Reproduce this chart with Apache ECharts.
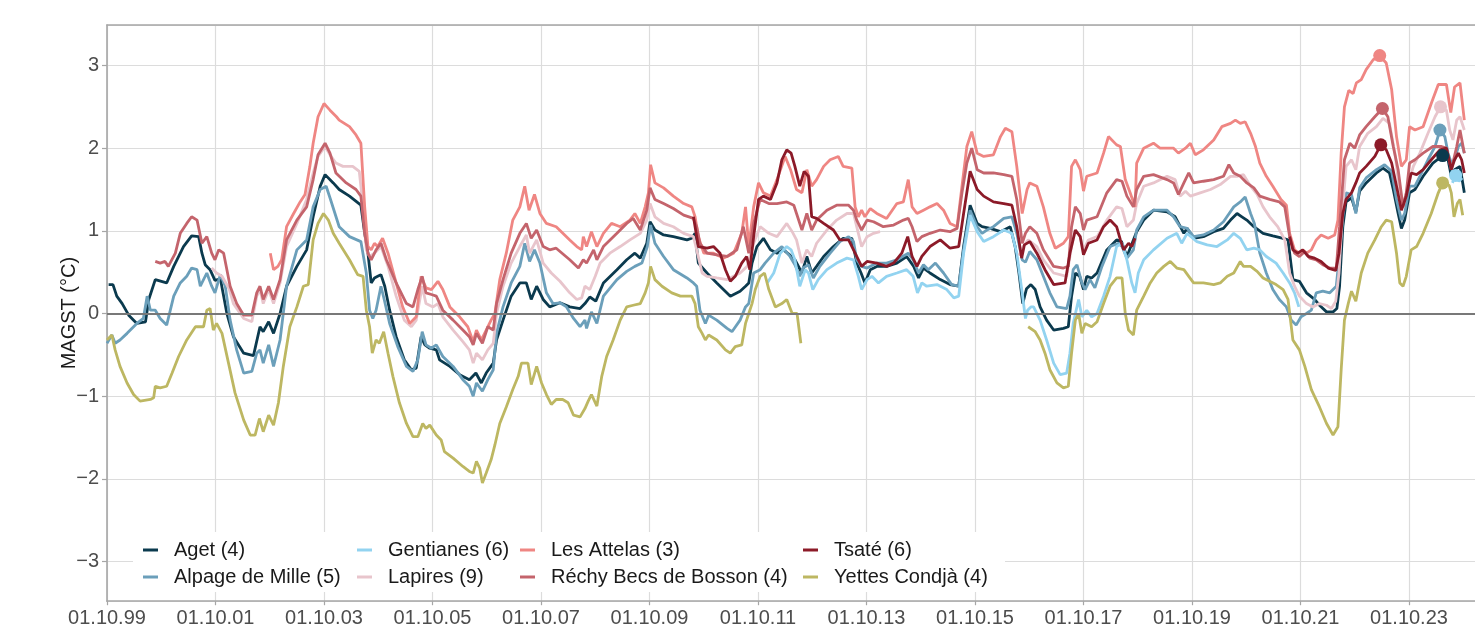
<!DOCTYPE html>
<html><head><meta charset="utf-8">
<script src="https://cdn.jsdelivr.net/npm/echarts@6/dist/echarts.min.js"></script>
<style>html,body{margin:0;padding:0;background:#fff;}#c{width:1475px;height:628px;}</style>
</head><body><div id="c"></div>
<script>
// x values are decimal years; 1999.75 = 01.10.1999
const START = 1999.75;
const xTickLabels = ['01.10.99','01.10.01','01.10.03','01.10.05','01.10.07','01.10.09','01.10.11','01.10.13','01.10.15','01.10.17','01.10.19','01.10.21','01.10.23'];
const seriesNames = ['Aget (4)','Alpage de Mille (5)','Gentianes (6)','Lapires (9)','Les Attelas (3)','Réchy Becs de Bosson (4)','Tsaté (6)','Yettes Condjà (4)'];
const seriesColors = ['#0b3a4e','#6b9fba','#92d3f0','#e8c5cc','#ef8683','#c4646c','#8c1a28','#bdb762'];

const aget = [[1999.78,0.35],[1999.86,0.35],[1999.93,0.21],[2000.03,0.12],[2000.15,-0.02],[2000.30,-0.12],[2000.46,-0.10],[2000.52,0.17],[2000.64,0.41],[2000.85,0.37],[2000.98,0.57],[2001.16,0.81],[2001.31,0.94],[2001.44,0.93],[2001.50,0.73],[2001.56,0.59],[2001.65,0.53],[2001.74,0.40],[2001.84,0.42],[2001.96,0.0],[2002.08,-0.28],[2002.27,-0.48],[2002.45,-0.51],[2002.57,-0.16],[2002.63,-0.22],[2002.73,-0.10],[2002.82,-0.24],[2002.94,0.0],[2003.06,0.33],[2003.25,0.57],[2003.43,0.77],[2003.55,1.17],[2003.68,1.54],[2003.77,1.68],[2003.92,1.58],[2004.03,1.50],[2004.22,1.42],[2004.43,1.31],[2004.50,0.97],[2004.56,0.73],[2004.62,0.37],[2004.68,0.43],[2004.74,0.45],[2004.80,0.47],[2004.87,0.33],[2004.96,0.04],[2005.08,-0.28],[2005.23,-0.56],[2005.36,-0.68],[2005.45,-0.66],[2005.54,-0.28],[2005.61,-0.38],[2005.70,-0.42],[2005.82,-0.44],[2005.88,-0.56],[2006.07,-0.64],[2006.25,-0.74],[2006.43,-0.80],[2006.55,-0.72],[2006.65,-0.84],[2006.74,-0.72],[2006.87,-0.60],[2006.93,-0.32],[2007.05,-0.08],[2007.20,0.21],[2007.36,0.37],[2007.48,0.37],[2007.57,0.17],[2007.67,0.33],[2007.79,0.17],[2007.91,0.08],[2008.10,0.13],[2008.28,0.08],[2008.47,0.06],[2008.56,0.12],[2008.65,0.20],[2008.76,0.15],[2008.90,0.37],[2009.15,0.53],[2009.33,0.65],[2009.48,0.73],[2009.58,0.67],[2009.70,0.85],[2009.76,1.11],[2009.85,1.01],[2010.01,0.95],[2010.19,0.93],[2010.44,0.89],[2010.53,0.91],[2010.59,0.97],[2010.65,0.61],[2010.81,0.49],[2010.99,0.37],[2011.24,0.21],[2011.42,0.27],[2011.52,0.33],[2011.58,0.37],[2011.64,0.61],[2011.73,0.81],[2011.85,0.91],[2011.98,0.77],[2012.10,0.73],[2012.22,0.77],[2012.35,0.70],[2012.43,0.65],[2012.56,0.49],[2012.65,0.69],[2012.74,0.49],[2012.83,0.57],[2012.96,0.69],[2013.14,0.81],[2013.32,0.91],[2013.48,0.91],[2013.57,0.61],[2013.65,0.49],[2013.72,0.37],[2013.82,0.53],[2013.94,0.57],[2014.12,0.57],[2014.31,0.61],[2014.49,0.69],[2014.62,0.57],[2014.71,0.43],[2014.80,0.55],[2014.92,0.49],[2015.11,0.41],[2015.29,0.35],[2015.45,0.33],[2015.54,0.81],[2015.66,1.31],[2015.79,1.09],[2015.88,1.05],[2016.03,1.03],[2016.22,0.99],[2016.40,1.05],[2016.49,0.81],[2016.56,0.49],[2016.63,0.12],[2016.70,0.30],[2016.78,0.35],[2016.86,0.29],[2016.95,0.08],[2017.07,-0.08],[2017.20,-0.20],[2017.38,-0.18],[2017.47,-0.16],[2017.53,0.21],[2017.60,0.49],[2017.68,0.45],[2017.75,0.29],[2017.81,0.45],[2017.90,0.43],[2018.00,0.49],[2018.18,0.77],[2018.36,0.89],[2018.45,0.87],[2018.55,0.69],[2018.67,0.89],[2018.73,0.99],[2018.86,1.13],[2019.04,1.25],[2019.29,1.23],[2019.44,1.17],[2019.60,0.97],[2019.66,1.03],[2019.78,0.91],[2019.96,0.93],[2020.15,0.99],[2020.33,1.03],[2020.46,1.13],[2020.58,1.21],[2020.67,1.17],[2020.76,1.13],[2020.89,1.05],[2021.06,0.97],[2021.24,0.94],[2021.43,0.91],[2021.52,0.89],[2021.61,0.41],[2021.73,0.39],[2021.86,0.25],[2022.01,0.17],[2022.10,0.10],[2022.23,0.02],[2022.35,0.02],[2022.42,0.06],[2022.47,0.33],[2022.53,1.05],[2022.59,1.35],[2022.69,1.40],[2022.77,1.23],[2022.84,1.48],[2022.96,1.58],[2023.15,1.70],[2023.27,1.76],[2023.39,1.70],[2023.46,1.50],[2023.55,1.21],[2023.61,1.03],[2023.67,1.13],[2023.76,1.46],[2023.86,1.50],[2024.01,1.66],[2024.19,1.82],[2024.37,1.91],[2024.47,1.86],[2024.53,1.66],[2024.59,1.74],[2024.69,1.78],[2024.77,1.46]];

const alpageDeMille = [[1999.75,-0.36],[1999.84,-0.26],[1999.90,-0.36],[1999.99,-0.32],[2000.12,-0.24],[2000.30,-0.12],[2000.42,-0.06],[2000.49,0.21],[2000.55,0.04],[2000.64,0.04],[2000.73,-0.06],[2000.85,-0.14],[2000.98,0.21],[2001.10,0.37],[2001.22,0.45],[2001.31,0.55],[2001.41,0.53],[2001.47,0.33],[2001.59,0.49],[2001.68,0.33],[2001.74,0.25],[2001.84,0.47],[2001.93,0.33],[2002.02,-0.08],[2002.14,-0.44],[2002.27,-0.72],[2002.42,-0.70],[2002.51,-0.48],[2002.57,-0.44],[2002.63,-0.60],[2002.73,-0.38],[2002.82,-0.64],[2002.94,-0.32],[2003.06,0.33],[2003.25,0.77],[2003.43,0.89],[2003.55,1.29],[2003.68,1.50],[2003.79,1.54],[2003.86,1.40],[2004.03,1.05],[2004.22,0.93],[2004.43,0.87],[2004.53,0.49],[2004.59,0.04],[2004.65,-0.06],[2004.71,0.04],[2004.80,0.33],[2004.86,0.17],[2004.96,-0.12],[2005.11,-0.40],[2005.27,-0.64],[2005.39,-0.70],[2005.48,-0.56],[2005.56,-0.22],[2005.63,-0.38],[2005.73,-0.42],[2005.82,-0.38],[2005.94,-0.52],[2006.13,-0.64],[2006.31,-0.80],[2006.43,-0.88],[2006.50,-1.00],[2006.56,-0.84],[2006.67,-0.94],[2006.77,-0.80],[2006.87,-0.68],[2006.93,-0.24],[2007.05,0.08],[2007.20,0.37],[2007.36,0.57],[2007.45,0.85],[2007.54,0.63],[2007.63,0.77],[2007.73,0.61],[2007.85,0.25],[2007.97,0.12],[2008.10,0.13],[2008.22,0.08],[2008.35,-0.06],[2008.47,-0.16],[2008.56,-0.08],[2008.59,-0.18],[2008.68,0.02],[2008.78,-0.12],[2008.90,0.21],[2009.15,0.41],[2009.33,0.51],[2009.48,0.57],[2009.61,0.61],[2009.71,0.81],[2009.77,1.07],[2009.85,0.85],[2010.01,0.69],[2010.19,0.53],[2010.44,0.43],[2010.56,0.37],[2010.62,0.33],[2010.68,0.04],[2010.78,-0.12],[2010.84,-0.02],[2010.99,-0.08],[2011.18,-0.18],[2011.27,-0.22],[2011.42,-0.08],[2011.52,0.08],[2011.58,0.12],[2011.67,0.49],[2011.79,0.53],[2011.88,0.61],[2012.04,0.73],[2012.19,0.81],[2012.34,0.69],[2012.43,0.59],[2012.52,0.45],[2012.58,0.55],[2012.68,0.59],[2012.77,0.43],[2012.89,0.57],[2013.08,0.73],[2013.26,0.87],[2013.42,0.93],[2013.51,0.87],[2013.57,0.65],[2013.66,0.57],[2013.76,0.55],[2013.94,0.61],[2014.12,0.61],[2014.31,0.65],[2014.52,0.73],[2014.61,0.65],[2014.71,0.49],[2014.80,0.59],[2014.89,0.53],[2015.02,0.61],[2015.17,0.49],[2015.32,0.35],[2015.45,0.33],[2015.54,0.77],[2015.66,1.25],[2015.79,1.05],[2015.88,0.97],[2015.97,1.01],[2016.09,1.05],[2016.28,1.15],[2016.43,1.17],[2016.52,0.97],[2016.62,0.65],[2016.68,0.62],[2016.76,0.75],[2016.89,0.65],[2017.01,0.45],[2017.13,0.25],[2017.26,0.08],[2017.44,0.06],[2017.50,0.21],[2017.56,0.53],[2017.63,0.59],[2017.72,0.37],[2017.78,0.29],[2017.87,0.41],[2017.96,0.31],[2018.09,0.57],[2018.24,0.81],[2018.40,0.85],[2018.46,0.81],[2018.55,0.67],[2018.67,0.77],[2018.73,1.01],[2018.86,1.17],[2019.04,1.25],[2019.29,1.25],[2019.41,1.17],[2019.53,1.05],[2019.66,1.03],[2019.78,0.93],[2019.96,0.95],[2020.15,1.01],[2020.33,1.11],[2020.52,1.29],[2020.64,1.35],[2020.73,1.41],[2020.83,1.21],[2020.90,1.09],[2021.00,0.73],[2021.12,0.49],[2021.24,0.29],[2021.36,0.17],[2021.49,0.08],[2021.58,-0.08],[2021.67,-0.14],[2021.76,-0.04],[2021.86,0.00],[2021.95,0.04],[2022.04,0.25],[2022.16,0.27],[2022.29,0.25],[2022.41,0.33],[2022.47,0.73],[2022.53,1.17],[2022.59,1.46],[2022.69,1.44],[2022.77,1.21],[2022.84,1.52],[2022.96,1.64],[2023.15,1.74],[2023.30,1.80],[2023.43,1.72],[2023.52,1.38],[2023.61,1.13],[2023.67,1.21],[2023.76,1.54],[2023.86,1.54],[2023.95,1.66],[2024.10,1.86],[2024.23,2.02],[2024.32,2.22],[2024.41,2.14],[2024.47,1.94],[2024.53,1.82],[2024.59,1.86],[2024.66,2.02],[2024.72,2.06],[2024.77,1.94]];

const gentianes = [[2011.92,0.37],[2012.04,0.49],[2012.16,0.73],[2012.28,0.81],[2012.36,0.77],[2012.43,0.65],[2012.52,0.33],[2012.62,0.53],[2012.68,0.49],[2012.76,0.29],[2012.86,0.41],[2013.02,0.53],[2013.20,0.61],[2013.39,0.67],[2013.51,0.65],[2013.60,0.45],[2013.66,0.29],[2013.76,0.41],[2013.85,0.45],[2013.97,0.37],[2014.12,0.45],[2014.31,0.49],[2014.49,0.53],[2014.61,0.45],[2014.69,0.25],[2014.77,0.37],[2014.86,0.33],[2015.05,0.35],[2015.23,0.29],[2015.36,0.19],[2015.45,0.21],[2015.54,0.73],[2015.66,1.19],[2015.79,0.99],[2015.91,0.87],[2016.09,0.93],[2016.28,1.01],[2016.43,0.97],[2016.52,0.73],[2016.62,0.25],[2016.68,-0.06],[2016.72,0.04],[2016.78,0.08],[2016.83,0.08],[2016.95,-0.08],[2017.07,-0.32],[2017.20,-0.60],[2017.32,-0.74],[2017.44,-0.72],[2017.50,-0.48],[2017.56,-0.12],[2017.66,0.17],[2017.72,-0.04],[2017.81,0.04],[2017.90,-0.04],[2018.00,0.00],[2018.12,0.21],[2018.24,0.45],[2018.36,0.81],[2018.46,0.85],[2018.55,0.65],[2018.64,0.37],[2018.70,0.25],[2018.76,0.49],[2018.86,0.65],[2019.04,0.77],[2019.29,0.91],[2019.47,0.97],[2019.56,0.85],[2019.66,0.97],[2019.84,0.87],[2020.03,0.83],[2020.21,0.81],[2020.40,0.89],[2020.52,0.97],[2020.64,0.91],[2020.76,0.77],[2020.89,0.79],[2021.00,0.77],[2021.12,0.69],[2021.30,0.61],[2021.43,0.49],[2021.55,0.37],[2021.64,0.25],[2021.72,0.08],[2021.73,null],[2024.55,1.58],[2024.61,1.67],[2024.67,1.60],[2024.73,1.64]];

const lapires = [[2001.68,0.55],[2001.77,0.49],[2001.87,0.45],[2002.00,0.30],[2002.08,0.12],[2002.27,-0.06],[2002.42,-0.10],[2002.51,0.21],[2002.57,0.29],[2002.63,0.12],[2002.73,0.29],[2002.82,0.12],[2002.94,0.37],[2003.06,0.81],[2003.25,1.09],[2003.43,1.38],[2003.55,1.70],[2003.64,1.90],[2003.77,2.02],[2003.88,1.90],[2003.97,1.82],[2004.10,1.78],[2004.28,1.78],[2004.40,1.72],[2004.47,1.29],[2004.53,0.77],[2004.59,0.69],[2004.68,0.73],[2004.80,0.81],[2004.93,0.57],[2005.08,0.21],[2005.23,-0.08],[2005.36,-0.16],[2005.45,-0.08],[2005.56,0.33],[2005.63,0.12],[2005.76,0.08],[2005.85,0.12],[2005.94,-0.04],[2006.13,-0.20],[2006.31,-0.34],[2006.43,-0.44],[2006.50,-0.60],[2006.56,-0.48],[2006.67,-0.56],[2006.77,-0.44],[2006.87,-0.36],[2006.93,0.00],[2007.05,0.33],[2007.20,0.61],[2007.36,0.81],[2007.48,0.95],[2007.54,0.73],[2007.67,0.89],[2007.79,0.61],[2007.94,0.49],[2008.10,0.39],[2008.28,0.25],[2008.41,0.17],[2008.50,0.19],[2008.56,0.33],[2008.65,0.29],[2008.75,0.45],[2008.84,0.61],[2009.02,0.73],[2009.21,0.81],[2009.39,0.89],[2009.58,0.97],[2009.70,1.13],[2009.76,1.33],[2009.85,1.17],[2010.01,1.09],[2010.19,1.05],[2010.38,0.97],[2010.56,0.93],[2010.62,0.77],[2010.72,0.49],[2010.81,0.45],[2010.99,0.43],[2011.18,0.41],[2011.42,0.49],[2011.55,0.57],[2011.67,0.85],[2011.79,1.05],[2011.95,0.97],[2012.10,0.93],[2012.28,1.09],[2012.38,0.99],[2012.46,0.89],[2012.56,0.61],[2012.65,0.77],[2012.74,0.69],[2012.83,0.85],[2013.02,1.01],[2013.20,1.13],[2013.39,1.21],[2013.51,1.21],[2013.60,0.97],[2013.66,0.81],[2013.76,0.93],[2013.88,0.97],[2014.00,0.99],[2014.01,null],[2016.56,0.70],[2016.64,0.81],[2016.73,0.89],[2016.89,0.81],[2017.01,0.65],[2017.20,0.49],[2017.44,0.45],[2017.53,0.81],[2017.60,1.01],[2017.69,0.93],[2017.75,0.77],[2017.84,0.89],[2018.00,0.93],[2018.18,1.13],[2018.36,1.29],[2018.46,1.27],[2018.55,1.05],[2018.67,1.13],[2018.73,1.33],[2018.86,1.54],[2019.04,1.58],[2019.29,1.66],[2019.44,1.62],[2019.53,1.42],[2019.63,1.48],[2019.72,1.42],[2019.90,1.46],[2020.09,1.50],[2020.27,1.56],[2020.46,1.66],[2020.58,1.66],[2020.70,1.68],[2020.83,1.54],[2020.95,1.44],[2021.06,1.29],[2021.18,1.17],[2021.33,1.05],[2021.46,0.89],[2021.55,0.49],[2021.64,0.33],[2021.73,0.21],[2021.86,0.12],[2021.98,0.08],[2022.10,0.12],[2022.23,0.10],[2022.32,0.06],[2022.40,0.15],[2022.46,0.49],[2022.53,1.29],[2022.59,1.78],[2022.69,1.86],[2022.77,1.74],[2022.84,2.02],[2022.99,2.18],[2023.15,2.26],[2023.27,2.36],[2023.39,2.30],[2023.49,1.94],[2023.58,1.46],[2023.64,1.29],[2023.73,1.54],[2023.83,1.78],[2023.95,1.94],[2024.10,2.18],[2024.23,2.38],[2024.33,2.50],[2024.44,2.46],[2024.50,2.22],[2024.56,2.10],[2024.63,2.34],[2024.69,2.38],[2024.77,2.22]];

const lesAttelas = [[2002.76,0.73],[2002.82,0.53],[2002.90,0.57],[2002.97,0.65],[2003.06,1.05],[2003.19,1.21],[2003.31,1.35],[2003.40,1.44],[2003.49,1.78],[2003.55,2.06],[2003.64,2.38],[2003.75,2.54],[2003.86,2.46],[2003.98,2.38],[2004.03,2.34],[2004.22,2.26],[2004.34,2.16],[2004.43,2.06],[2004.50,1.29],[2004.56,0.81],[2004.62,0.77],[2004.68,0.85],[2004.74,0.81],[2004.83,0.91],[2004.93,0.73],[2005.08,0.37],[2005.20,0.08],[2005.33,-0.12],[2005.45,-0.04],[2005.54,0.45],[2005.63,0.31],[2005.73,0.29],[2005.85,0.39],[2005.94,0.29],[2006.07,0.08],[2006.25,-0.04],[2006.40,-0.16],[2006.50,-0.34],[2006.56,-0.20],[2006.65,-0.32],[2006.74,-0.20],[2006.83,-0.08],[2006.90,0.00],[2006.99,0.41],[2007.11,0.73],[2007.23,1.13],[2007.36,1.29],[2007.45,1.54],[2007.53,1.25],[2007.63,1.44],[2007.73,1.21],[2007.85,1.09],[2008.03,1.05],[2008.28,0.89],[2008.41,0.81],[2008.50,0.77],[2008.53,0.93],[2008.59,0.81],[2008.68,0.99],[2008.78,0.81],[2008.90,0.97],[2009.05,1.09],[2009.21,1.05],[2009.39,1.13],[2009.48,1.21],[2009.58,1.09],[2009.67,1.29],[2009.73,1.46],[2009.77,1.80],[2009.85,1.58],[2010.01,1.52],[2010.19,1.42],[2010.38,1.33],[2010.53,1.29],[2010.59,1.17],[2010.65,0.93],[2010.75,0.73],[2010.93,0.73],[2011.12,0.67],[2011.30,0.73],[2011.45,0.97],[2011.52,1.29],[2011.58,0.81],[2011.67,1.29],[2011.76,1.58],[2011.85,1.46],[2011.98,1.42],[2012.10,1.62],[2012.25,1.90],[2012.35,1.74],[2012.46,1.50],[2012.56,1.46],[2012.65,1.74],[2012.74,1.54],[2012.83,1.62],[2012.96,1.78],[2013.08,1.86],[2013.23,1.90],[2013.32,1.78],[2013.48,1.76],[2013.54,1.29],[2013.60,1.17],[2013.66,1.25],[2013.72,1.17],[2013.82,1.27],[2013.94,1.21],[2014.12,1.15],[2014.31,1.33],[2014.43,1.35],[2014.52,1.62],[2014.59,1.29],[2014.68,1.21],[2014.80,1.25],[2014.92,1.29],[2015.05,1.33],[2015.17,1.25],[2015.29,1.09],[2015.42,1.05],[2015.51,1.54],[2015.60,2.02],[2015.69,2.20],[2015.79,1.94],[2015.91,1.90],[2016.09,1.92],[2016.22,2.14],[2016.31,2.24],[2016.43,2.20],[2016.52,1.78],[2016.62,1.21],[2016.71,1.50],[2016.76,1.58],[2016.89,1.54],[2017.01,1.29],[2017.13,0.97],[2017.23,0.79],[2017.38,0.85],[2017.47,0.93],[2017.53,1.78],[2017.60,1.86],[2017.69,1.74],[2017.75,1.48],[2017.81,1.66],[2018.00,1.70],[2018.12,1.94],[2018.21,2.14],[2018.36,2.04],[2018.43,2.02],[2018.52,1.62],[2018.61,1.46],[2018.70,1.29],[2018.73,1.82],[2018.86,2.00],[2019.04,2.06],[2019.16,2.00],[2019.41,2.00],[2019.50,1.94],[2019.63,2.00],[2019.72,2.06],[2019.81,1.92],[2019.96,1.98],[2020.15,2.10],[2020.30,2.26],[2020.46,2.30],[2020.55,2.34],[2020.64,2.30],[2020.73,2.32],[2020.83,2.18],[2020.92,2.02],[2021.00,1.82],[2021.12,1.66],[2021.24,1.54],[2021.39,1.38],[2021.49,1.31],[2021.55,0.97],[2021.64,0.77],[2021.73,0.73],[2021.79,0.77],[2021.86,0.73],[2021.95,0.77],[2022.04,0.89],[2022.13,0.95],[2022.26,0.91],[2022.38,0.95],[2022.44,1.13],[2022.50,1.94],[2022.56,2.50],[2022.64,2.70],[2022.72,2.66],[2022.78,2.79],[2022.87,2.83],[2022.96,2.95],[2023.09,3.07],[2023.21,3.12],[2023.33,3.03],[2023.43,2.71],[2023.52,2.14],[2023.61,1.78],[2023.70,1.86],[2023.76,2.26],[2023.86,2.22],[2024.01,2.26],[2024.16,2.54],[2024.29,2.77],[2024.44,2.77],[2024.52,2.43],[2024.59,2.74],[2024.69,2.79],[2024.77,2.34]];

const rechyBecsDeBosson = [[2000.64,0.63],[2000.73,0.61],[2000.82,0.63],[2000.88,0.57],[2001.01,0.73],[2001.10,0.97],[2001.22,1.09],[2001.31,1.17],[2001.41,1.13],[2001.50,0.85],[2001.59,0.93],[2001.68,0.73],[2001.74,0.65],[2001.81,0.77],[2001.90,0.73],[2002.02,0.33],[2002.14,0.12],[2002.27,-0.02],[2002.42,-0.02],[2002.51,0.25],[2002.57,0.33],[2002.63,0.17],[2002.73,0.33],[2002.82,0.17],[2002.94,0.41],[2003.06,0.89],[2003.25,1.13],[2003.43,1.29],[2003.55,1.62],[2003.64,1.92],[2003.77,2.06],[2003.86,1.94],[2003.97,1.70],[2004.16,1.58],[2004.34,1.50],[2004.43,1.42],[2004.50,0.97],[2004.56,0.73],[2004.62,0.65],[2004.71,0.77],[2004.80,0.85],[2004.90,0.65],[2005.08,0.37],[2005.27,0.12],[2005.39,0.08],[2005.48,0.29],[2005.56,0.45],[2005.63,0.25],[2005.73,0.23],[2005.82,0.21],[2005.94,0.04],[2006.13,-0.08],[2006.31,-0.20],[2006.43,-0.28],[2006.50,-0.38],[2006.56,-0.24],[2006.67,-0.36],[2006.77,-0.16],[2006.87,-0.20],[2006.93,0.12],[2007.05,0.41],[2007.20,0.73],[2007.36,0.97],[2007.48,1.09],[2007.57,0.91],[2007.67,1.01],[2007.79,0.81],[2007.91,0.77],[2008.03,0.79],[2008.28,0.65],[2008.44,0.55],[2008.53,0.65],[2008.59,0.61],[2008.72,0.77],[2008.78,0.65],[2008.90,0.81],[2009.15,0.97],[2009.33,1.09],[2009.45,1.15],[2009.58,1.01],[2009.70,1.25],[2009.76,1.52],[2009.85,1.38],[2010.01,1.33],[2010.19,1.27],[2010.38,1.19],[2010.56,1.15],[2010.62,1.05],[2010.68,0.85],[2010.81,0.73],[2010.99,0.71],[2011.18,0.69],[2011.36,0.77],[2011.48,1.05],[2011.58,0.73],[2011.67,1.09],[2011.79,1.38],[2011.95,1.33],[2012.10,1.33],[2012.28,1.35],[2012.41,1.31],[2012.46,1.21],[2012.56,1.01],[2012.65,1.21],[2012.74,1.01],[2012.83,1.13],[2013.02,1.25],[2013.20,1.31],[2013.42,1.31],[2013.51,1.25],[2013.57,1.13],[2013.66,1.01],[2013.76,1.13],[2013.88,1.11],[2014.06,1.05],[2014.25,1.07],[2014.43,1.13],[2014.52,1.15],[2014.59,1.05],[2014.68,0.87],[2014.77,0.93],[2014.92,0.97],[2015.11,1.01],[2015.29,0.99],[2015.42,1.03],[2015.51,1.46],[2015.60,1.82],[2015.69,2.00],[2015.79,1.74],[2015.91,1.70],[2016.09,1.70],[2016.28,1.68],[2016.43,1.66],[2016.52,1.38],[2016.62,0.85],[2016.68,0.97],[2016.76,1.05],[2016.89,0.97],[2017.01,0.77],[2017.20,0.57],[2017.38,0.55],[2017.47,0.57],[2017.53,1.05],[2017.60,1.29],[2017.69,1.21],[2017.75,1.01],[2017.81,1.13],[2018.00,1.17],[2018.18,1.46],[2018.36,1.62],[2018.46,1.60],[2018.55,1.42],[2018.67,1.29],[2018.73,1.50],[2018.86,1.66],[2019.04,1.68],[2019.29,1.62],[2019.41,1.58],[2019.50,1.44],[2019.60,1.58],[2019.69,1.70],[2019.78,1.58],[2019.96,1.60],[2020.15,1.62],[2020.33,1.66],[2020.43,1.80],[2020.52,1.70],[2020.64,1.66],[2020.76,1.58],[2020.89,1.52],[2021.00,1.42],[2021.18,1.38],[2021.36,1.35],[2021.46,1.29],[2021.55,0.93],[2021.64,0.73],[2021.73,0.69],[2021.83,0.75],[2021.92,0.67],[2022.04,0.65],[2022.16,0.59],[2022.29,0.55],[2022.41,0.55],[2022.47,1.05],[2022.56,1.86],[2022.66,2.06],[2022.75,2.00],[2022.84,2.16],[2022.96,2.26],[2023.12,2.38],[2023.26,2.48],[2023.36,2.38],[2023.46,2.02],[2023.55,1.74],[2023.64,1.29],[2023.70,1.46],[2023.76,1.82],[2023.86,1.86],[2024.01,1.94],[2024.19,2.02],[2024.35,2.02],[2024.44,2.00],[2024.53,1.74],[2024.63,2.02],[2024.69,2.22],[2024.77,1.94]];

const tsate = [[2010.56,1.17],[2010.65,0.81],[2010.81,0.79],[2010.93,0.81],[2011.05,0.73],[2011.15,0.53],[2011.24,0.39],[2011.33,0.45],[2011.45,0.61],[2011.54,0.69],[2011.60,0.53],[2011.67,0.93],[2011.76,1.38],[2011.85,1.42],[2011.98,1.38],[2012.10,1.58],[2012.19,1.86],[2012.28,1.98],[2012.36,1.94],[2012.43,1.78],[2012.52,1.54],[2012.60,1.72],[2012.68,1.66],[2012.74,1.17],[2012.83,1.15],[2012.96,1.09],[2013.14,1.01],[2013.26,0.89],[2013.42,0.89],[2013.54,0.73],[2013.66,0.57],[2013.76,0.63],[2013.94,0.61],[2014.12,0.57],[2014.25,0.61],[2014.40,0.73],[2014.51,0.93],[2014.59,0.69],[2014.68,0.57],[2014.77,0.69],[2014.92,0.81],[2015.11,0.89],[2015.29,0.79],[2015.45,0.81],[2015.54,1.21],[2015.66,1.72],[2015.79,1.50],[2015.91,1.42],[2016.09,1.35],[2016.28,1.33],[2016.43,1.31],[2016.52,1.05],[2016.61,0.67],[2016.66,0.83],[2016.76,0.87],[2016.89,0.73],[2017.04,0.53],[2017.20,0.35],[2017.41,0.37],[2017.50,0.73],[2017.60,1.01],[2017.69,0.93],[2017.75,0.71],[2017.84,0.85],[2018.00,0.89],[2018.12,1.05],[2018.24,1.13],[2018.36,1.05],[2018.43,0.89],[2018.49,0.77],[2018.58,0.85],[2018.64,0.81],[2018.70,0.91],[2018.71,null],[2021.55,0.93],[2021.61,0.77],[2021.70,0.73],[2021.79,0.77],[2021.89,0.69],[2022.01,0.67],[2022.13,0.63],[2022.26,0.55],[2022.40,0.52],[2022.46,0.73],[2022.53,1.21],[2022.59,1.38],[2022.69,1.46],[2022.77,1.58],[2022.84,1.70],[2022.96,1.78],[2023.12,1.90],[2023.23,2.04],[2023.33,1.98],[2023.43,1.82],[2023.52,1.54],[2023.61,1.25],[2023.70,1.42],[2023.79,1.70],[2023.89,1.68],[2024.01,1.74],[2024.16,1.86],[2024.32,1.98],[2024.44,2.00],[2024.53,1.74],[2024.59,1.86],[2024.66,1.94],[2024.72,1.86],[2024.77,1.70]];

const yettesCondja = [[1999.75,-0.32],[1999.84,-0.26],[1999.90,-0.44],[1999.99,-0.64],[2000.12,-0.84],[2000.24,-0.98],[2000.36,-1.06],[2000.55,-1.04],[2000.61,-1.02],[2000.64,-0.88],[2000.73,-0.90],[2000.85,-0.88],[2000.95,-0.72],[2001.07,-0.52],[2001.22,-0.32],[2001.38,-0.16],[2001.53,-0.16],[2001.59,0.04],[2001.65,0.06],[2001.71,-0.20],[2001.77,-0.12],[2001.87,-0.24],[2001.99,-0.60],[2002.11,-0.96],[2002.27,-1.29],[2002.39,-1.47],[2002.48,-1.47],[2002.56,-1.27],[2002.63,-1.43],[2002.73,-1.23],[2002.82,-1.35],[2002.91,-1.08],[2003.00,-0.64],[2003.12,-0.16],[2003.25,0.08],[2003.37,0.33],[2003.46,0.35],[2003.55,0.89],[2003.64,1.09],[2003.74,1.21],[2003.83,1.13],[2003.92,0.97],[2004.03,0.85],[2004.22,0.65],[2004.37,0.47],[2004.47,0.45],[2004.53,0.04],[2004.59,-0.16],[2004.64,-0.48],[2004.71,-0.32],[2004.77,-0.36],[2004.85,-0.22],[2004.93,-0.48],[2005.02,-0.76],[2005.14,-1.08],[2005.27,-1.33],[2005.39,-1.49],[2005.48,-1.49],[2005.57,-1.33],[2005.63,-1.39],[2005.70,-1.35],[2005.82,-1.47],[2005.91,-1.53],[2005.97,-1.67],[2006.13,-1.75],[2006.31,-1.85],[2006.43,-1.91],[2006.50,-1.93],[2006.56,-1.79],[2006.62,-1.87],[2006.67,-2.05],[2006.74,-1.93],[2006.83,-1.77],[2006.90,-1.59],[2006.99,-1.33],[2007.11,-1.13],[2007.23,-0.92],[2007.33,-0.76],[2007.39,-0.60],[2007.51,-0.60],[2007.57,-0.86],[2007.67,-0.64],[2007.76,-0.84],[2007.85,-0.98],[2007.94,-1.10],[2008.03,-1.04],[2008.15,-1.04],[2008.25,-1.08],[2008.35,-1.23],[2008.47,-1.25],[2008.56,-1.15],[2008.62,-1.06],[2008.68,-0.98],[2008.78,-1.12],[2008.87,-0.76],[2008.96,-0.52],[2009.08,-0.32],[2009.21,-0.08],[2009.33,0.08],[2009.45,0.10],[2009.58,0.12],[2009.67,0.25],[2009.73,0.37],[2009.77,0.57],[2009.85,0.41],[2009.98,0.33],[2010.16,0.25],[2010.32,0.21],[2010.53,0.21],[2010.59,0.12],[2010.65,-0.16],[2010.72,-0.24],[2010.78,-0.32],[2010.84,-0.26],[2010.99,-0.32],[2011.15,-0.44],[2011.24,-0.48],[2011.33,-0.40],[2011.45,-0.38],[2011.52,-0.12],[2011.58,0.00],[2011.64,0.12],[2011.70,0.29],[2011.79,0.45],[2011.87,0.49],[2011.95,0.29],[2012.07,0.08],[2012.19,0.12],[2012.28,0.17],[2012.38,0.00],[2012.47,0.00],[2012.54,-0.36],[2012.55,null],[2016.73,-0.16],[2016.86,-0.22],[2016.95,-0.32],[2017.04,-0.48],[2017.13,-0.68],[2017.26,-0.84],[2017.38,-0.90],[2017.47,-0.88],[2017.53,-0.48],[2017.60,-0.08],[2017.66,0.00],[2017.72,-0.24],[2017.78,-0.12],[2017.90,-0.16],[2018.00,-0.10],[2018.12,0.12],[2018.24,0.33],[2018.36,0.43],[2018.46,0.43],[2018.52,0.00],[2018.58,-0.20],[2018.67,-0.26],[2018.73,0.04],[2018.86,0.21],[2018.98,0.37],[2019.10,0.49],[2019.23,0.57],[2019.35,0.63],[2019.47,0.55],[2019.60,0.53],[2019.69,0.45],[2019.78,0.37],[2019.96,0.37],[2020.15,0.35],[2020.27,0.37],[2020.40,0.45],[2020.52,0.49],[2020.64,0.63],[2020.70,0.57],[2020.83,0.57],[2020.95,0.51],[2021.06,0.43],[2021.18,0.39],[2021.30,0.35],[2021.43,0.29],[2021.52,0.17],[2021.61,-0.32],[2021.73,-0.44],[2021.83,-0.64],[2021.95,-0.92],[2022.10,-1.13],[2022.23,-1.33],[2022.35,-1.47],[2022.44,-1.37],[2022.50,-0.68],[2022.56,-0.08],[2022.63,0.12],[2022.69,0.27],[2022.77,0.15],[2022.87,0.49],[2022.99,0.73],[2023.12,0.89],[2023.24,1.05],[2023.33,1.13],[2023.43,1.11],[2023.52,0.73],[2023.58,0.37],[2023.64,0.33],[2023.70,0.45],[2023.79,0.77],[2023.89,0.81],[2024.01,0.97],[2024.16,1.21],[2024.29,1.46],[2024.37,1.58],[2024.49,1.55],[2024.53,1.46],[2024.58,1.17],[2024.64,1.33],[2024.69,1.38],[2024.74,1.19]];

const seriesData = [aget, alpageDeMille, gentianes, lapires, lesAttelas, rechyBecsDeBosson, tsate, yettesCondja];
const legendColumns = [[0,1],[2,3],[4,5],[6,7]];
const legendLefts = [143, 357, 520, 803];

const FONT = 'Liberation Sans, Arial, Helvetica, sans-serif';
const toT = p => [p[0] - START, p[1]];
const X_MAX = 26; // 01.10.2025, beyond the right edge of the picture

const lineSeries = seriesData.map((d, i) => ({
  name: seriesNames[i], type: 'line', data: d.map(toT), showSymbol: false, symbol: 'none',
  connectNulls: false, color: seriesColors[i], z: 3,
  lineStyle: { width: 2.8, color: seriesColors[i] }, emphasis: { disabled: true }, animation: false
}));

// dot at each series maximum
const maxSeries = seriesData.map((d, i) => {
  let best = null;
  d.forEach(p => { if (p[1] != null && (best === null || p[1] > best[1])) best = p; });
  return { name: seriesNames[i] + ' max', type: 'scatter', data: [toT(best)], symbol: 'circle', symbolSize: 13,
    itemStyle: { color: seriesColors[i], opacity: 1 }, z: 4, emphasis: { disabled: true }, animation: false };
});

const zeroSeries = { name: 'zero', type: 'line', data: [], z: 2, animation: false,
  markLine: { silent: true, symbol: 'none', label: { show: false }, animation: false,
    lineStyle: { color: '#787878', width: 2, type: 'solid' }, data: [{ yAxis: 0 }] } };

const evenTicks = xTickLabels.map((s, k) => 2 * k);

const chart = echarts.init(document.getElementById('c'), null, { renderer: 'canvas' });
chart.setOption({
  animation: false,
  backgroundColor: '#ffffff',
  grid: { left: 107, top: 25, width: X_MAX * 54.25, height: 576.2, show: false, containLabel: false, outerBoundsMode: 'none' },
  xAxis: [{
    type: 'value', min: 0, max: X_MAX, interval: 1,
    axisLine: { show: true, onZero: false, lineStyle: { color: '#a6a6a6', width: 1.6 } },
    axisTick: { show: true, length: 4, customValues: evenTicks, lineStyle: { color: '#a6a6a6', width: 1.2 } },
    axisLabel: { show: true, margin: 7, fontSize: 20, color: '#4d4d4d', fontFamily: FONT, customValues: evenTicks, hideOverlap: false,
      formatter: v => { const k = Math.round(v / 2); return Math.abs(v - 2 * k) < 1e-6 ? (xTickLabels[k] || '') : ''; } },
    splitLine: { show: true, lineStyle: { color: '#dcdcdc', width: 1.2 } }
  }, {
    type: 'value', position: 'top', min: 0, max: X_MAX, interval: 1,
    axisLine: { show: true, onZero: false, lineStyle: { color: '#a6a6a6', width: 1.6 } },
    axisTick: { show: false }, axisLabel: { show: false }, splitLine: { show: false }
  }],
  yAxis: {
    type: 'value', min: -3.48, max: 3.49, splitNumber: 7,
    name: 'MAGST (°C)', nameLocation: 'middle', nameGap: 28, nameMoveOverlap: false,
    nameTextStyle: { fontSize: 20, color: '#1a1a1a', fontFamily: FONT },
    axisLine: { show: true, onZero: false, lineStyle: { color: '#a6a6a6', width: 1.6 } },
    axisTick: { show: true, length: 5, lineStyle: { color: '#a6a6a6', width: 1.2 } },
    axisLabel: { margin: 8, fontSize: 20, color: '#4d4d4d', fontFamily: FONT, showMinLabel: false, showMaxLabel: false,
      formatter: v => (Math.abs(v - Math.round(v)) < 1e-6 ? (v < 0 ? '\u2212' + Math.abs(v) : String(v)) : '') },
    splitLine: { show: true, lineStyle: { color: '#dcdcdc', width: 1.2 } }
  },
  graphic: [{ type: 'rect', z: 5, silent: true, shape: { x: 133, y: 532, width: 872, height: 60 }, style: { fill: '#ffffff' } }],
  legend: legendColumns.map((cols, j) => ({
    data: cols.map(i => seriesNames[i]), orient: 'vertical', left: legendLefts[j], top: 540, padding: 0,
    itemGap: 7, itemWidth: 15, itemHeight: 3, icon: 'rect', selectedMode: false, z: 10,
    textStyle: { fontSize: 20, color: '#1a1a1a', fontFamily: FONT, lineHeight: 20, padding: [0, 0, 0, 11] }
  })),
  series: [zeroSeries].concat(lineSeries, maxSeries)
});
</script></body></html>
